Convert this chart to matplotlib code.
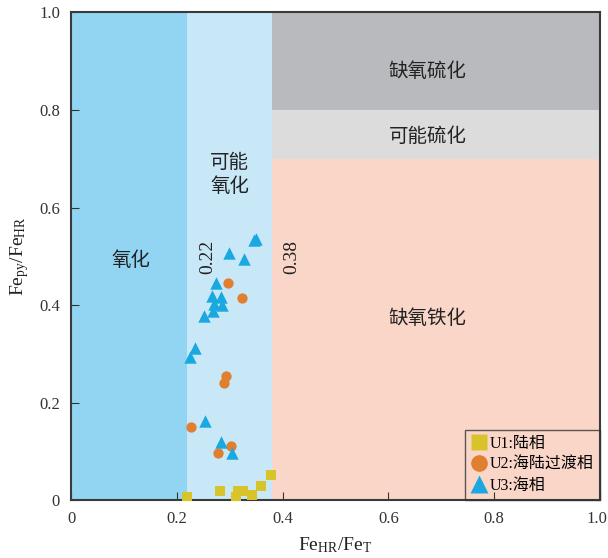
import matplotlib
matplotlib.use('Agg')
import matplotlib.pyplot as plt
import matplotlib.transforms as mtransforms
from matplotlib.lines import Line2D

plt.rcParams['font.family'] = ['Liberation Serif', 'Noto Sans CJK SC']
plt.rcParams['mathtext.default'] = 'regular'

# U1: continental
u1_x = [0.219, 0.282, 0.311, 0.316, 0.325, 0.343, 0.360, 0.379]
u1_y = [0.007, 0.019, 0.007, 0.019, 0.019, 0.010, 0.028, 0.052]
# U2: transitional
u2_x = [0.296, 0.323, 0.293, 0.289, 0.227, 0.302, 0.278]
u2_y = [0.445, 0.414, 0.255, 0.241, 0.150, 0.111, 0.097]
# U3: marine
u3_x = [0.345, 0.349, 0.298, 0.327, 0.275, 0.267, 0.283, 0.270, 0.286,
        0.269, 0.252, 0.235, 0.224, 0.253, 0.284, 0.304]
u3_y = [0.533, 0.535, 0.507, 0.495, 0.445, 0.418, 0.416, 0.402, 0.400,
        0.388, 0.377, 0.311, 0.294, 0.162, 0.119, 0.096]

oxic_limit = 0.22
anoxic_limit = 0.38
euxinic_limit = 0.8
possible_euxinic_limit = 0.7

ticks = [0, 0.2, 0.4, 0.6, 0.8, 1.0]
tick_labels = ['0', '0.2', '0.4', '0.6', '0.8', '1.0']

fig = plt.figure(figsize=(6.08, 5.58), dpi=100)
ax = fig.add_axes([0.1168, 0.1039, 0.870, 0.8737])

ax.axvspan(0, oxic_limit, color='#92d5f3', lw=0)
ax.axvspan(oxic_limit, anoxic_limit, color='#c9e8f7', lw=0)
ax.fill_between([anoxic_limit, 1], 0, possible_euxinic_limit, color='#fad6c8', lw=0)
ax.fill_between([anoxic_limit, 1], possible_euxinic_limit, euxinic_limit, color='#dcdcdd', lw=0)
ax.fill_between([anoxic_limit, 1], euxinic_limit, 1, color='#b9babd', lw=0)

ax.scatter(u1_x, u1_y, marker='s', s=45, color='#d8c42a', zorder=3, lw=0)
ax.scatter(u2_x, u2_y, marker='o', s=55, color='#e07f2f', zorder=3, lw=0)
ax.scatter(u3_x, u3_y, marker='^', s=80, color='#19a8e0', zorder=3, lw=0)

cjk = ['Noto Sans CJK SC']
ax.text(0.113, 0.492, '氧化', family=cjk, fontsize=14, ha='center', va='center', color='#222222')
ax.text(0.300, 0.667, '可能\n氧化', family=cjk, fontsize=14, ha='center', va='center',
        color='#222222', linespacing=1.2)
ax.text(0.674, 0.878, '缺氧硫化', family=cjk, fontsize=14, ha='center', va='center', color='#222222')
ax.text(0.674, 0.745, '可能硫化', family=cjk, fontsize=14, ha='center', va='center', color='#222222')
ax.text(0.674, 0.373, '缺氧铁化', family=cjk, fontsize=14, ha='center', va='center', color='#222222')
ax.text(0.258, 0.498, '0.22', fontsize=14, rotation=90, ha='center', va='center', color='#222222')
ax.text(0.417, 0.498, '0.38', fontsize=14, rotation=90, ha='center', va='center', color='#222222')

ax.set_xlim(0, 1)
ax.set_ylim(0, 1)
ax.set_xticks(ticks)
ax.set_yticks(ticks)
ax.set_xticklabels(tick_labels)
ax.set_yticklabels(tick_labels)
ax.tick_params(direction='in', length=6, labelsize=12, colors='#333333', pad=8)
# nudge the last x label so it stays inside the figure
last = ax.get_xticklabels()[-1]
last.set_transform(last.get_transform() + mtransforms.ScaledTranslation(-3 / 100, 0, fig.dpi_scale_trans))
for s in ax.spines.values():
    s.set_color('#3a3a3a')
    s.set_linewidth(1.5)

ax.set_xlabel('Fe$_{HR}$/Fe$_{T}$', fontsize=14, color='#222222', labelpad=6)
ax.set_ylabel('Fe$_{py}$/Fe$_{HR}$', fontsize=14, color='#222222', labelpad=6)

handles = [
    Line2D([], [], marker='s', ls='', ms=11, color='#d8c42a', mec='none', label='U1:陆相'),
    Line2D([], [], marker='o', ls='', ms=12, color='#e07f2f', mec='none', label='U2:海陆过渡相'),
    Line2D([], [], marker='^', ls='', ms=13, color='#19a8e0', mec='none', label='U3:海相'),
]
leg = ax.legend(handles=handles, loc='lower right', borderaxespad=0, fancybox=False,
                edgecolor='#333333', facecolor='none', fontsize=11.5, handlelength=1.0,
                handletextpad=0.15, labelspacing=0.3, borderpad=0.4)
leg.get_frame().set_linewidth(1.0)

fig.savefig('out.png', dpi=100)
